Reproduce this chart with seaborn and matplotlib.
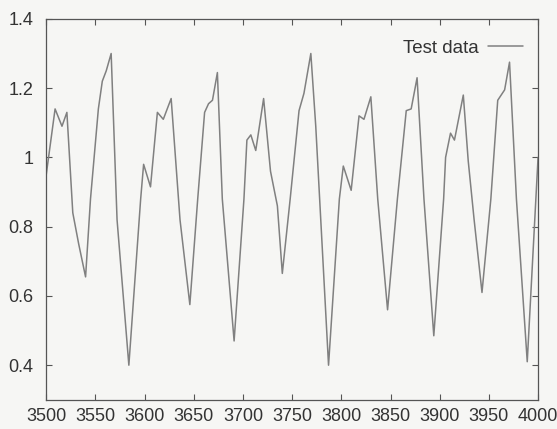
import numpy as np
import pandas as pd
import matplotlib
matplotlib.use('Agg')
import matplotlib.pyplot as plt
import seaborn as sns

# Values
x_vals = [3500, 3509, 3516, 3521, 3527, 3533, 3540, 3545, 3553, 3557, 3561, 3566,
          3572, 3584, 3596, 3599, 3606, 3613, 3619, 3627, 3636, 3646, 3654, 3661,
          3665, 3669, 3674, 3679, 3691, 3701, 3704, 3708, 3713, 3721, 3728, 3735,
          3740, 3748, 3757, 3762, 3769, 3774, 3787, 3798, 3802, 3810, 3818, 3823,
          3830, 3837, 3847, 3857, 3866, 3871, 3877, 3884, 3894, 3904, 3906, 3911,
          3915, 3924, 3929, 3935, 3943, 3952, 3959, 3966, 3971, 3978, 3989, 4000]
y_vals = [0.95, 1.14, 1.09, 1.13, 0.84, 0.75, 0.655, 0.88, 1.14, 1.22, 1.25, 1.30,
          0.82, 0.40, 0.88, 0.98, 0.915, 1.13, 1.11, 1.17, 0.82, 0.575, 0.88, 1.13,
          1.155, 1.165, 1.245, 0.88, 0.47, 0.88, 1.05, 1.065, 1.02, 1.17, 0.96, 0.86,
          0.665, 0.88, 1.135, 1.185, 1.30, 1.09, 0.40, 0.88, 0.975, 0.905, 1.12, 1.11,
          1.175, 0.88, 0.56, 0.88, 1.135, 1.14, 1.23, 0.88, 0.485, 0.88, 1.0, 1.07,
          1.05, 1.18, 0.99, 0.82, 0.61, 0.88, 1.165, 1.195, 1.275, 0.88, 0.41, 1.0]
x_ticks = [3500, 3550, 3600, 3650, 3700, 3750, 3800, 3850, 3900, 3950, 4000]
y_ticks = [0.4, 0.6, 0.8, 1.0, 1.2, 1.4]
y_labels = ['0.4', '0.6', '0.8', '1', '1.2', '1.4']

df = pd.DataFrame({'x': x_vals, 'y': y_vals})

sns.set_theme(style='ticks')
plt.rcParams['font.family'] = ['Liberation Sans', 'DejaVu Sans']

fig = plt.figure(figsize=(5.57, 4.29), dpi=100, facecolor='#f6f6f4')
ax = fig.add_axes([0.083, 0.068, 0.883, 0.888])
ax.set_facecolor('#f6f6f4')

sns.lineplot(data=df, x='x', y='y', ax=ax, color='#808080', linewidth=1.1,
             label='Test data')

ax.set_xlim(3500, 4000)
ax.set_ylim(0.3, 1.4)
ax.set_xticks(x_ticks)
ax.set_yticks(y_ticks)
ax.set_yticklabels(y_labels)
ax.set_xlabel('')
ax.set_ylabel('')

ax.tick_params(direction='in', length=4, width=0.8, color='#555555',
               top=True, right=True, labelsize=13, labelcolor='#333333', pad=6)
ax.tick_params(axis='y', pad=9)
for s in ax.spines.values():
    s.set_color('#555555')
    s.set_linewidth(0.9)

leg = ax.legend(loc='upper right', frameon=False, markerfirst=False,
                fontsize=13.5, handlelength=1.9, handletextpad=0.5,
                borderaxespad=0.3, bbox_to_anchor=(0.997, 0.98))
for t in leg.get_texts():
    t.set_color('#333333')

plt.savefig('out.png', dpi=100, facecolor=fig.get_facecolor())
